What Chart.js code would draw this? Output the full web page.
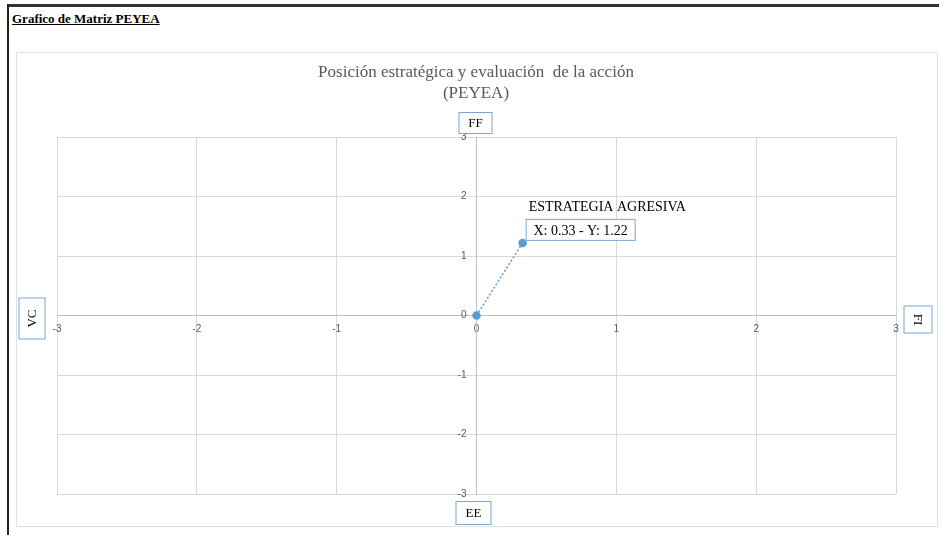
<!DOCTYPE html>
<html lang="es">
<head>
<meta charset="UTF-8">
<title>Grafico de Matriz PEYEA</title>
<script src="https://cdn.jsdelivr.net/npm/chart.js"></script>
<style>
  body { margin: 0; background: #fff; }
  #page { position: relative; width: 939px; height: 535px; overflow: hidden; }
  #topline { position: absolute; left: 8px; top: 4px; width: 931px; height: 3px; background: #333; }
  #leftline { position: absolute; left: 7px; top: 4px; width: 2px; height: 531px; background: #222; }
  #heading { position: absolute; left: 12px; top: 11px; font: bold 13px "Liberation Serif", "Times New Roman", serif; text-decoration: underline; color: #000; }
  #frame { position: absolute; left: 16px; top: 52px; width: 920px; height: 473px; border: 1px solid #e2e2e2; }
  canvas { position: absolute; left: 0; top: 0; }
</style>
</head>
<body>
<div id="page">
  <div id="topline"></div>
  <div id="leftline"></div>
  <div id="heading">Grafico de Matriz PEYEA</div>
  <div id="frame"></div>
  <canvas id="chart" width="939" height="535"></canvas>
</div>
<script>
// datos
const xValues = [0, 0.33];
const yValues = [0, 1.22];
const titleLines = ["Posición estratégica y evaluación  de la acción", "(PEYEA)"];
const axisNames = { top: "FF", bottom: "EE", left: "VC", right: "FI" };
const strategyName = "ESTRATEGIA AGRESIVA";
const pointLabel = "X: " + xValues[1] + " - Y: " + yValues[1];

const serif = '"Liberation Serif", "Times New Roman", serif';
const blue = "#5b9bd5";
const boxBlue = "#7aa6d6";

function drawBox(ctx, text, cx, cy, w, h, rot, size) {
  ctx.save();
  ctx.translate(cx, cy);
  ctx.fillStyle = "#fff";
  ctx.fillRect(-w / 2, -h / 2, w, h);
  ctx.strokeStyle = boxBlue;
  ctx.lineWidth = 1;
  ctx.strokeRect(-w / 2 + 0.5, -h / 2 + 0.5, w - 1, h - 1);
  if (rot) ctx.rotate(rot);
  ctx.fillStyle = "#000";
  ctx.font = (size || 13) + "px " + serif;
  ctx.textAlign = "center";
  ctx.textBaseline = "middle";
  ctx.fillText(text, 0, 1);
  ctx.restore();
}

const extras = {
  id: "extras",
  afterDraw(chart) {
    const ctx = chart.ctx;
    const xs = chart.scales.x, ys = chart.scales.y;
    ctx.save();
    // titulo
    ctx.fillStyle = "#595959";
    ctx.font = "17px " + serif;
    ctx.textAlign = "center";
    ctx.textBaseline = "middle";
    ctx.fillText(titleLines[0], 476, 73);
    ctx.fillText(titleLines[1], 476, 94);
    ctx.restore();

    const cx = xs.getPixelForValue(0), cy = ys.getPixelForValue(0);
    drawBox(ctx, axisNames.top, cx - 1, ys.top - 14, 34, 22);
    drawBox(ctx, axisNames.bottom, cx - 3, ys.bottom + 19, 36, 24);
    drawBox(ctx, axisNames.left, 32, cy + 3, 27, 42, -Math.PI / 2);
    drawBox(ctx, axisNames.right, 918, cy + 4, 29, 28, Math.PI / 2);

    // etiqueta del punto
    const px = xs.getPixelForValue(xValues[1]);
    const py = ys.getPixelForValue(yValues[1]);
    ctx.save();
    ctx.fillStyle = "#000";
    ctx.font = "14px " + serif;
    ctx.textAlign = "left";
    ctx.textBaseline = "middle";
    ctx.fillText(strategyName, px + 6, py - 36);
    ctx.restore();
    drawBox(ctx, pointLabel, px + 58, py - 13, 110, 22, 0, 14);
  }
};

new Chart(document.getElementById("chart"), {
  type: "scatter",
  data: {
    datasets: [{
      data: xValues.map((x, i) => ({ x: x, y: yValues[i] })),
      showLine: true,
      borderColor: blue,
      borderWidth: 1.5,
      borderDash: [2, 2],
      backgroundColor: blue,
      pointBackgroundColor: blue,
      pointBorderColor: blue,
      pointRadius: 3.5
    }]
  },
  options: {
    responsive: false,
    devicePixelRatio: 1,
    animation: false,
    layout: { padding: { left: 57, right: 43, top: 137, bottom: 41 } },
    plugins: { legend: { display: false }, tooltip: { enabled: false } },
    scales: {
      x: {
        type: "linear",
        position: { y: 0 },
        min: -3, max: 3,
        ticks: { stepSize: 1, color: "#595959", font: { size: 10 }, padding: 8 },
        grid: { color: "#d9d9d9", drawTicks: false },
        border: { color: "#bfbfbf" }
      },
      y: {
        type: "linear",
        position: { x: 0 },
        min: -3, max: 3,
        ticks: { stepSize: 1, color: "#595959", font: { size: 10 },
                 callback: v => v + "\u2002\u2002" },
        grid: { color: "#d9d9d9", drawTicks: false },
        border: { color: "#bfbfbf" }
      }
    }
  },
  plugins: [extras]
});
</script>
</body>
</html>
